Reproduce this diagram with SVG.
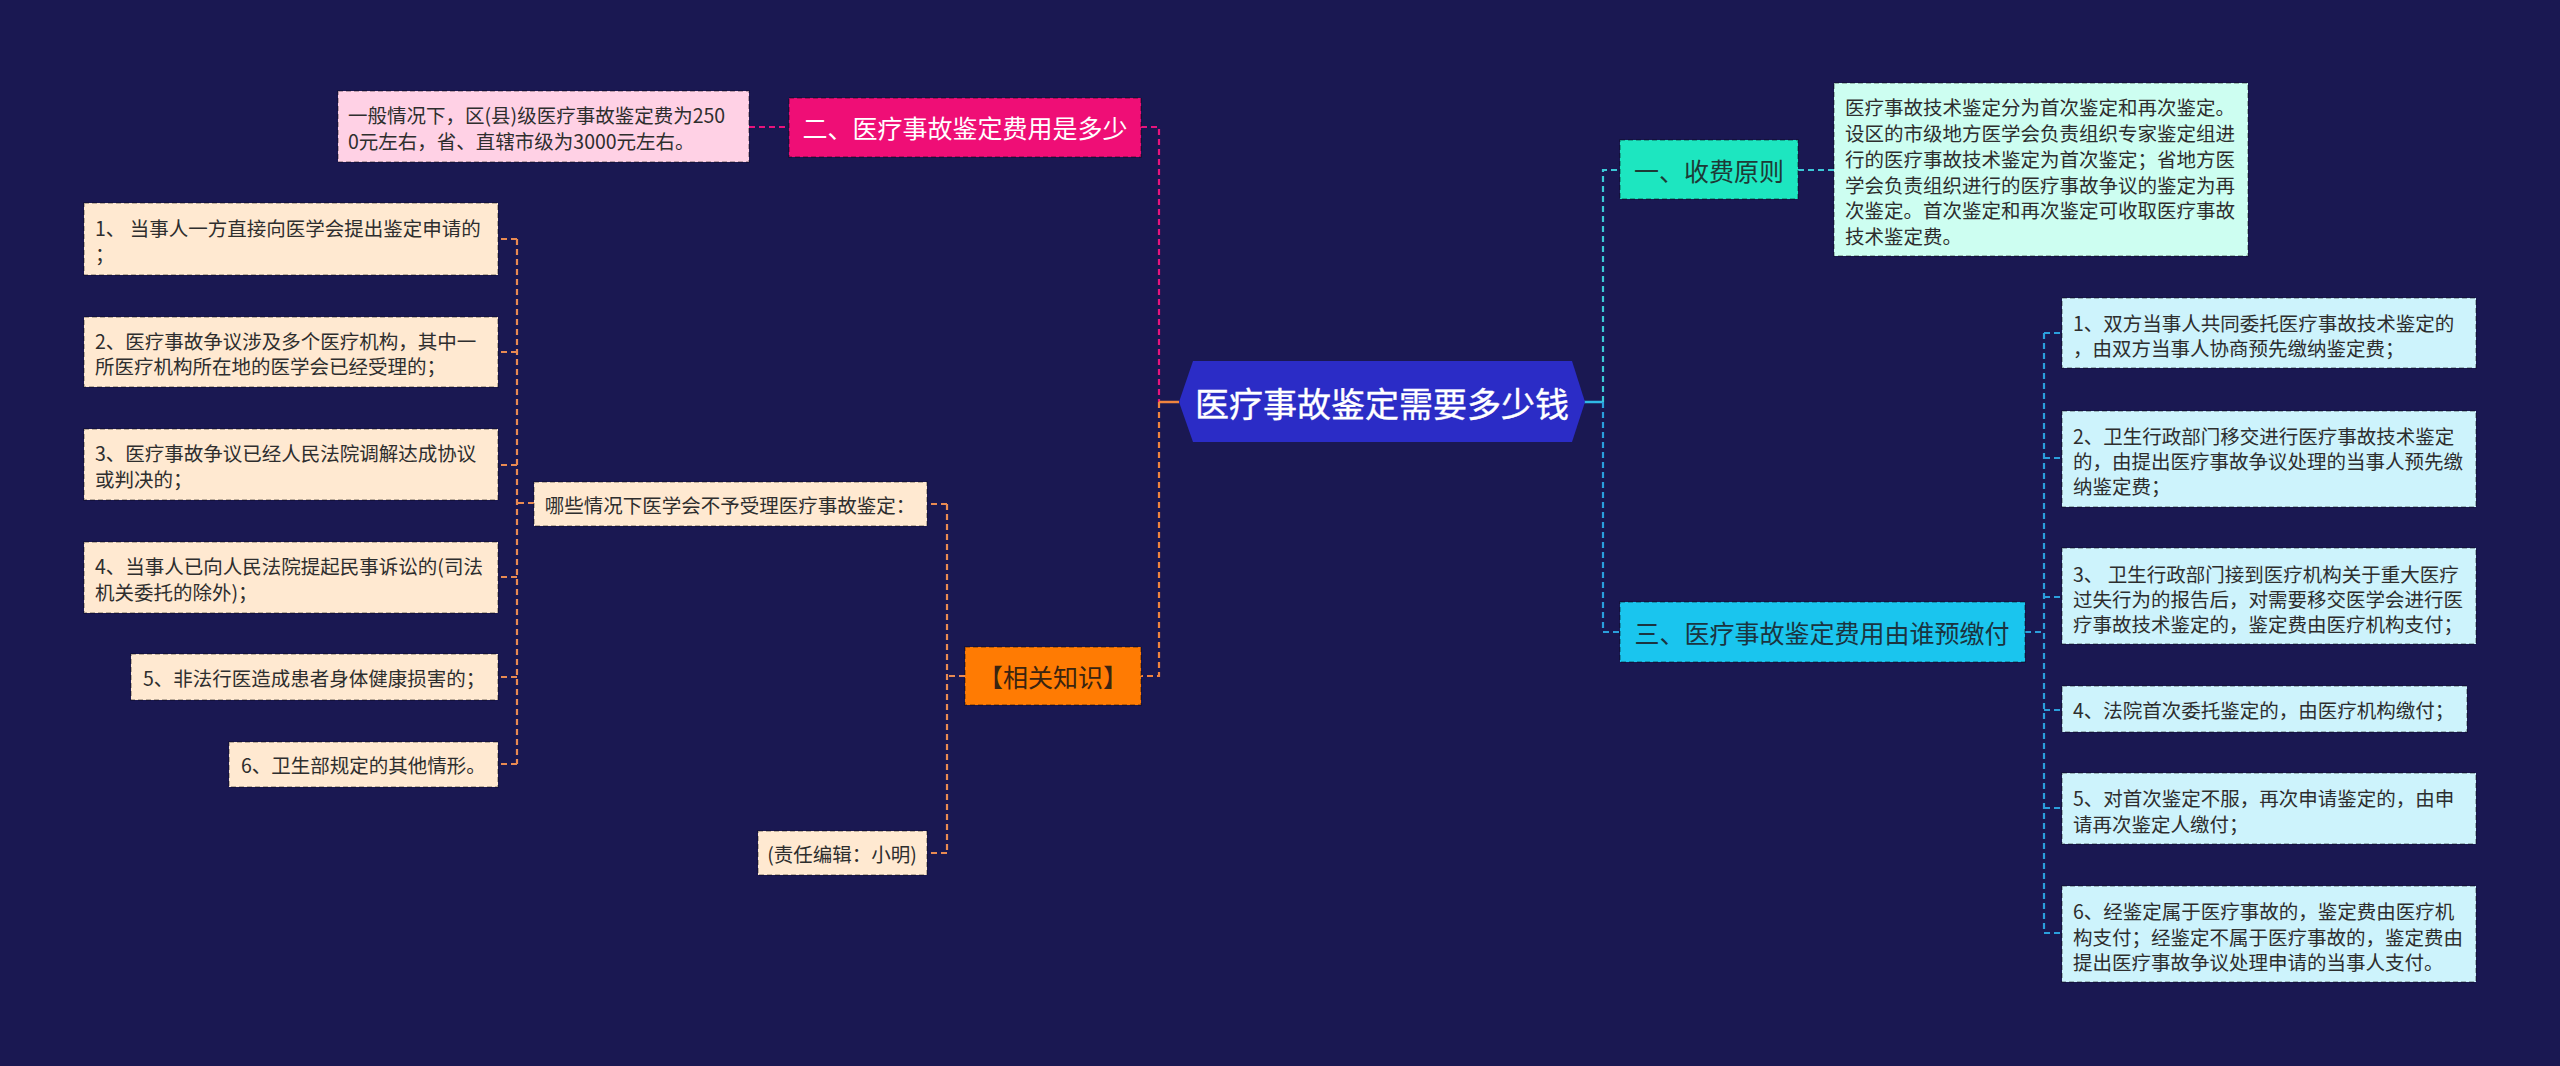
<svg xmlns="http://www.w3.org/2000/svg" width="2560" height="1066" viewBox="0 0 2560 1066">
<style>
text{font-family:"Noto Sans CJK SC","Noto Sans",sans-serif;}
.leaf{font-size:19.5px;fill:#2e2e2e;}
.l1{font-size:25px;}
.box{stroke:#000;stroke-opacity:0.35;stroke-width:1.5;stroke-dasharray:5,3;}
.c{fill:none;stroke-width:2.2;stroke-dasharray:6,4;}
.pink{stroke:#e8137c;}
.org{stroke:#f0843f;}
.org2{stroke:#e98a52;}
.teal{stroke:#3cc8d6;}
.blue{stroke:#2b9fdc;}
</style>
<rect width="2560" height="1066" fill="#1a1852"/>
<g id="connectors">
<path class="c pink" d="M749,127 H789"/>
<path class="c pink" d="M1141,127 H1159 V402"/>
<path class="c org" d="M1159,402 V676 H1141"/>
<path d="M1159,402 H1179" fill="none" stroke="#f0843f" stroke-width="2.5"/>
<path class="c org2" d="M965,676 H947"/>
<path class="c org2" d="M947,504 V853"/>
<path class="c org2" d="M947,504 H927 M947,853 H927"/>
<path class="c org2" d="M534,503 H517"/>
<path class="c org2" d="M517,239 V764"/>
<path class="c org2" d="M517,239 H498 M517,352 H498 M517,465 H498 M517,577 H498 M517,677 H498 M517,764 H498"/>
<path d="M1584,402 H1603" fill="none" stroke="#2fb9e6" stroke-width="2.5"/>
<path class="c teal" d="M1603,402 V170 H1620"/>
<path class="c teal" d="M1798,170 H1834"/>
<path class="c blue" d="M1603,402 V632 H1620"/>
<path class="c blue" d="M2025,632 H2044"/>
<path class="c blue" d="M2044,333 V933"/>
<path class="c blue" d="M2044,333 H2062 M2044,458 H2062 M2044,597 H2062 M2044,710 H2062 M2044,808 H2062 M2044,933 H2062"/>
</g>
<g id="root">
<polygon points="1179,402 1193,361 1572,361 1585,402 1572,442 1193,442" fill="#2b2cc6"/>
<text x="1382" y="402" font-size="34" fill="#ffffff" stroke="#ffffff" stroke-width="0.4" text-anchor="middle" dominant-baseline="central">医疗事故鉴定需要多少钱</text>
</g>
<g id="n-fee">
<rect class="box" x="789" y="98" width="352" height="59" fill="#ef0e76"/>
<text class="l1" x="965" y="127" fill="#ffffff" text-anchor="middle" dominant-baseline="central">二、医疗事故鉴定费用是多少</text>
</g>
<g id="n-fee-leaf">
<rect class="box" x="338" y="91" width="411" height="71" fill="#ffd1e5"/>
<text class="leaf" x="348" y="114" dominant-baseline="central">一般情况下，区(县)级医疗事故鉴定费为250</text>
<text class="leaf" x="348" y="140" dominant-baseline="central">0元左右，省、直辖市级为3000元左右。</text>
</g>
<g id="n-know">
<rect class="box" x="965" y="647" width="176" height="58" fill="#ff7b03"/>
<text class="l1" x="1053" y="676" fill="#3a2410" text-anchor="middle" dominant-baseline="central">【相关知识】</text>
</g>
<g id="n-which">
<rect class="box" x="534" y="482" width="393" height="44" fill="#ffe9d1"/>
<text class="leaf" x="730" y="504" text-anchor="middle" dominant-baseline="central">哪些情况下医学会不予受理医疗事故鉴定：</text>
</g>
<g id="n-editor">
<rect class="box" x="758" y="831" width="169" height="44" fill="#ffe9d1"/>
<text class="leaf" x="842" y="853" text-anchor="middle" dominant-baseline="central">(责任编辑：小明)</text>
</g>
<g id="n-l1">
<rect class="box" x="84" y="203" width="414" height="72" fill="#ffe9d1"/>
<text class="leaf" x="95" y="227" dominant-baseline="central" xml:space="preserve">1、 当事人一方直接向医学会提出鉴定申请的</text>
<text class="leaf" x="95" y="253" dominant-baseline="central">；</text>
</g>
<g id="n-l2">
<rect class="box" x="84" y="317" width="414" height="70" fill="#ffe9d1"/>
<text class="leaf" x="95" y="340" dominant-baseline="central">2、医疗事故争议涉及多个医疗机构，其中一</text>
<text class="leaf" x="95" y="365" dominant-baseline="central">所医疗机构所在地的医学会已经受理的；</text>
</g>
<g id="n-l3">
<rect class="box" x="84" y="429" width="414" height="71" fill="#ffe9d1"/>
<text class="leaf" x="95" y="452" dominant-baseline="central">3、医疗事故争议已经人民法院调解达成协议</text>
<text class="leaf" x="95" y="478" dominant-baseline="central">或判决的；</text>
</g>
<g id="n-l4">
<rect class="box" x="84" y="542" width="414" height="71" fill="#ffe9d1"/>
<text class="leaf" x="95" y="565" dominant-baseline="central">4、当事人已向人民法院提起民事诉讼的(司法</text>
<text class="leaf" x="95" y="591" dominant-baseline="central">机关委托的除外)；</text>
</g>
<g id="n-l5">
<rect class="box" x="131" y="654" width="367" height="46" fill="#ffe9d1"/>
<text class="leaf" x="143" y="677" dominant-baseline="central">5、非法行医造成患者身体健康损害的；</text>
</g>
<g id="n-l6">
<rect class="box" x="229" y="742" width="269" height="45" fill="#ffe9d1"/>
<text class="leaf" x="241" y="764" dominant-baseline="central">6、卫生部规定的其他情形。</text>
</g>
<g id="n-principle">
<rect class="box" x="1620" y="140" width="178" height="59" fill="#1de6c0"/>
<text class="l1" x="1709" y="170" fill="#1d3a36" text-anchor="middle" dominant-baseline="central">一、收费原则</text>
</g>
<g id="n-principle-leaf">
<rect class="box" x="1834" y="83" width="414" height="173" fill="#cdfef1"/>
<text class="leaf" x="1845" y="106" dominant-baseline="central">医疗事故技术鉴定分为首次鉴定和再次鉴定。</text>
<text class="leaf" x="1845" y="132" dominant-baseline="central">设区的市级地方医学会负责组织专家鉴定组进</text>
<text class="leaf" x="1845" y="158" dominant-baseline="central">行的医疗事故技术鉴定为首次鉴定；省地方医</text>
<text class="leaf" x="1845" y="184" dominant-baseline="central">学会负责组织进行的医疗事故争议的鉴定为再</text>
<text class="leaf" x="1845" y="209" dominant-baseline="central">次鉴定。首次鉴定和再次鉴定可收取医疗事故</text>
<text class="leaf" x="1845" y="235" dominant-baseline="central">技术鉴定费。</text>
</g>
<g id="n-who">
<rect class="box" x="1620" y="602" width="405" height="60" fill="#1ac5ee"/>
<text class="l1" x="1822" y="632" fill="#1b3440" text-anchor="middle" dominant-baseline="central">三、医疗事故鉴定费用由谁预缴付</text>
</g>
<g id="n-r1">
<rect class="box" x="2062" y="298" width="414" height="70" fill="#cdf3fc"/>
<text class="leaf" x="2073" y="322" dominant-baseline="central">1、双方当事人共同委托医疗事故技术鉴定的</text>
<text class="leaf" x="2073" y="347" dominant-baseline="central">，由双方当事人协商预先缴纳鉴定费；</text>
</g>
<g id="n-r2">
<rect class="box" x="2062" y="411" width="414" height="96" fill="#cdf3fc"/>
<text class="leaf" x="2073" y="435" dominant-baseline="central">2、卫生行政部门移交进行医疗事故技术鉴定</text>
<text class="leaf" x="2073" y="460" dominant-baseline="central">的，由提出医疗事故争议处理的当事人预先缴</text>
<text class="leaf" x="2073" y="485" dominant-baseline="central">纳鉴定费；</text>
</g>
<g id="n-r3">
<rect class="box" x="2062" y="548" width="414" height="96" fill="#cdf3fc"/>
<text class="leaf" x="2073" y="573" dominant-baseline="central" xml:space="preserve">3、 卫生行政部门接到医疗机构关于重大医疗</text>
<text class="leaf" x="2073" y="598" dominant-baseline="central">过失行为的报告后，对需要移交医学会进行医</text>
<text class="leaf" x="2073" y="623" dominant-baseline="central">疗事故技术鉴定的，鉴定费由医疗机构支付；</text>
</g>
<g id="n-r4">
<rect class="box" x="2062" y="686" width="405" height="46" fill="#cdf3fc"/>
<text class="leaf" x="2073" y="709" dominant-baseline="central">4、法院首次委托鉴定的，由医疗机构缴付；</text>
</g>
<g id="n-r5">
<rect class="box" x="2062" y="773" width="414" height="71" fill="#cdf3fc"/>
<text class="leaf" x="2073" y="797" dominant-baseline="central">5、对首次鉴定不服，再次申请鉴定的，由申</text>
<text class="leaf" x="2073" y="823" dominant-baseline="central">请再次鉴定人缴付；</text>
</g>
<g id="n-r6">
<rect class="box" x="2062" y="886" width="414" height="96" fill="#cdf3fc"/>
<text class="leaf" x="2073" y="910" dominant-baseline="central">6、经鉴定属于医疗事故的，鉴定费由医疗机</text>
<text class="leaf" x="2073" y="936" dominant-baseline="central">构支付；经鉴定不属于医疗事故的，鉴定费由</text>
<text class="leaf" x="2073" y="961" dominant-baseline="central">提出医疗事故争议处理申请的当事人支付。</text>
</g>
</svg>
